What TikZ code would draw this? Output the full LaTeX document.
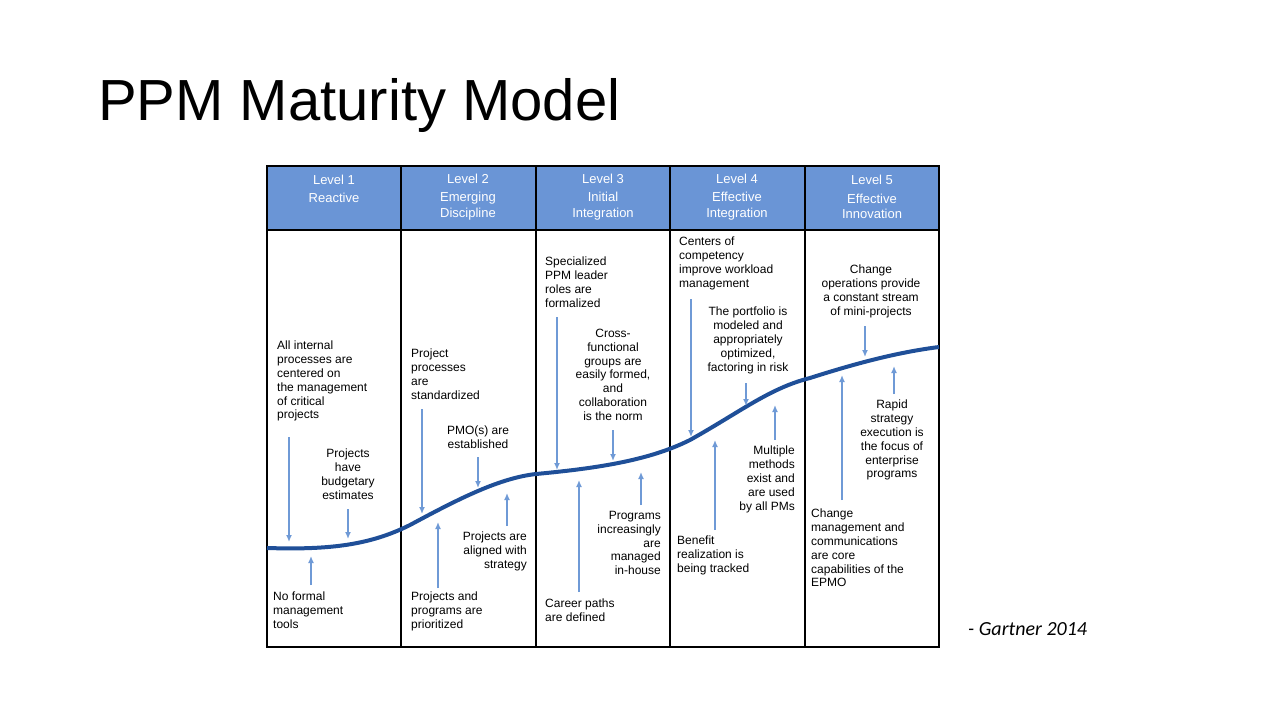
\documentclass[tikz,border=0pt]{standalone}
\usepackage{fontspec}
\setmainfont{Liberation Sans}
\newfontfamily\notefont{Carlito}
\usetikzlibrary{arrows.meta}
\definecolor{hdrblue}{HTML}{6A95D6}
\definecolor{curveblue}{HTML}{1F4F98}
\definecolor{arrblue}{HTML}{6F9AD6}
\tikzset{
  txt/.style={inner sep=0pt,font=\fontsize{12}{13.8}\selectfont},
  hdr/.style={inner sep=0pt,text=white,align=center,font=\fontsize{13}{15.5}\selectfont},
  arr/.style={arrblue,line width=1.6pt,-{Latex[length=7pt,width=6pt]}}
}
\begin{document}
\begin{tikzpicture}[x=1pt,y=-1pt]
  \useasboundingbox (0,0) rectangle (1280,720);
  \node[anchor=west,inner sep=0pt,font=\fontsize{58}{60}\selectfont] (title) at (98,106) {PPM Maturity Model};
  \node[anchor=west,inner sep=0pt,font=\notefont\itshape\fontsize{20}{22}\selectfont] (src) at (968,629) {- Gartner 2014};
  % table
  \fill[hdrblue] (267,166) rectangle (939,230);
  \draw[line width=1.2pt] (267,166) rectangle (939,647);
  \draw[line width=1.2pt] (267,230) -- (939,230);
  \foreach \x in {401,536,670,805} \draw[line width=1.2pt] (\x,166) -- (\x,647);
  \node[hdr] (h1) at (334,189) {Level 1\\[3pt]Reactive};
  \node[hdr] (h2) at (468,197) {Level 2\\[3pt]Emerging\\Discipline};
  \node[hdr] (h3) at (603,197) {Level 3\\[3pt]Initial\\Integration};
  \node[hdr] (h4) at (737,197) {Level 4\\[3pt]Effective\\Integration};
  \node[hdr] (h5) at (872,197) {Level 5\\[3pt]Effective\\Innovation};
  % curve
  \draw[curveblue,line width=4pt] (267,548) .. controls (330,550) and (370,545) .. (410,525)
     .. controls (460,498) and (500,478) .. (536,474)
     .. controls (600,468) and (650,460) .. (690,440)
     .. controls (740,412) and (770,388) .. (810,378)
     .. controls (860,362) and (900,352) .. (939,347);
  % level 1
  \node[txt,align=left,anchor=north west] (a1) at (277,341) {All internal\\processes are\\centered on\\the management\\of critical\\projects};
  \node[txt,align=center,anchor=north] (a2) at (348,449) {Projects\\have\\budgetary\\estimates};
  \node[txt,align=left,anchor=north west] (a3) at (273,592) {No formal\\management\\tools};
  \draw[arr] (289,437) -- (289,542);
  \draw[arr] (348,509) -- (348,539);
  \draw[arr] (311,585) -- (311,556);
  % level 2
  \node[txt,align=left,anchor=north west] (b1) at (411,349) {Project\\processes\\are\\standardized};
  \node[txt,align=center,anchor=north] (b2) at (478,426) {PMO(s) are\\established};
  \node[txt,align=right,anchor=north east] (b3) at (527,532) {Projects are\\aligned with\\strategy};
  \node[txt,align=left,anchor=north west] (b4) at (411,592) {Projects and\\programs are\\prioritized};
  \draw[arr] (422,409) -- (422,514);
  \draw[arr] (478,457) -- (478,488);
  \draw[arr] (507,526) -- (507,493);
  \draw[arr] (438,588) -- (438,522);
  % level 3
  \node[txt,align=left,anchor=north west] (c1) at (545,257) {Specialized\\PPM leader\\roles are\\formalized};
  \node[txt,align=center,anchor=north] (c2) at (613,329) {Cross-\\functional\\groups are\\easily formed,\\and\\collaboration\\is the norm};
  \node[txt,align=right,anchor=north east] (c3) at (661,511) {Programs\\increasingly\\are\\managed\\in-house};
  \node[txt,align=left,anchor=north west] (c4) at (545,599) {Career paths\\are defined};
  \draw[arr] (557,317) -- (557,470);
  \draw[arr] (613,430) -- (613,461);
  \draw[arr] (641,505) -- (641,472);
  \draw[arr] (579,592) -- (579,480);
  % level 4
  \node[txt,align=left,anchor=north west] (d1) at (679,237) {Centers of\\competency\\improve workload\\management};
  \node[txt,align=center,anchor=north] (d2) at (748,307) {The portfolio is\\modeled and\\appropriately\\optimized,\\factoring in risk};
  \node[txt,align=right,anchor=north east] (d3) at (795,446) {Multiple\\methods\\exist and\\are used\\by all PMs};
  \node[txt,align=left,anchor=north west] (d4) at (677,536) {Benefit\\realization is\\being tracked};
  \draw[arr] (691,299) -- (691,437);
  \draw[arr] (746,383) -- (746,406);
  \draw[arr] (775,440) -- (775,405);
  \draw[arr] (715,530) -- (715,440);
  % level 5
  \node[txt,align=center,anchor=north] (e1) at (871,265) {Change\\operations provide\\a constant stream\\of mini-projects};
  \node[txt,align=center,anchor=north] (e2) at (892,400) {Rapid\\strategy\\execution is\\the focus of\\enterprise\\programs};
  \node[txt,align=left,anchor=north west] (e3) at (811,509) {Change\\management and\\communications\\are core\\capabilities of the\\EPMO};
  \draw[arr] (865,326) -- (865,357);
  \draw[arr] (894,394) -- (894,366);
  \draw[arr] (842,500) -- (842,375);
\end{tikzpicture}
\end{document}
